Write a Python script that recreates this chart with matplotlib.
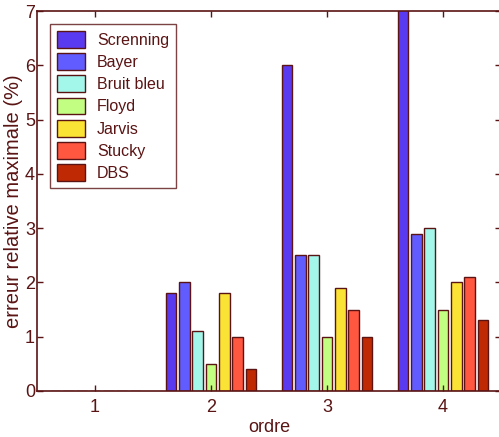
import numpy as np
import matplotlib
matplotlib.use("Agg")
import matplotlib.pyplot as plt

# erreur relative maximale (%) par ordre
ordres = [1, 2, 3, 4]
methodes = ["Screnning", "Bayer", "Bruit bleu", "Floyd", "Jarvis", "Stucky", "DBS"]
screnning = [0.0, 1.8, 6.0, 7.3]
bayer = [0.0, 2.0, 2.5, 2.9]
bruit_bleu = [0.0, 1.1, 2.5, 3.0]
floyd = [0.0, 0.5, 1.0, 1.5]
jarvis = [0.0, 1.8, 1.9, 2.0]
stucky = [0.0, 1.0, 1.5, 2.1]
dbs = [0.0, 0.4, 1.0, 1.3]
series = [screnning, bayer, bruit_bleu, floyd, jarvis, stucky, dbs]

couleurs = ["#5a3af0", "#615cff", "#a2f7ea", "#c2fe82", "#fbe335", "#ff5740", "#bf2a05"]
brun = "#5a1414"

plt.rcParams["font.family"] = ["Liberation Sans", "DejaVu Sans"]
plt.rcParams["text.color"] = brun
plt.rcParams["axes.labelcolor"] = brun
plt.rcParams["xtick.color"] = brun
plt.rcParams["ytick.color"] = brun

fig = plt.figure(figsize=(4.99, 4.37), dpi=100)
ax = fig.add_axes([0.0741, 0.1053, 0.9299, 0.8695])

x = np.array(ordres, dtype=float)
pas = 0.1147
for i, (nom, vals) in enumerate(zip(methodes, series)):
    ax.bar(x + (i - 3) * pas, vals, width=0.092, color=couleurs[i],
           edgecolor=brun, linewidth=1.0, label=nom)

ax.set_xlim(0.5, 4.5)
ax.set_ylim(0, 7)
ax.set_xticks(ordres)
ax.set_yticks(range(8))
ax.tick_params(direction="in", length=4, labelsize=13, width=1,
               top=True, right=True)
ax.tick_params(axis="x", pad=6)
ax.tick_params(axis="y", pad=1.5)
for s in ax.spines.values():
    s.set_color(brun)
    s.set_linewidth(1.2)

ax.set_xlabel("ordre", fontsize=13, labelpad=2)
ax.set_ylabel("erreur relative maximale (%)", fontsize=14.5)
ax.yaxis.set_label_coords(-0.03, 0.5)

leg = ax.legend(loc="upper left", bbox_to_anchor=(0.028, 0.966), fontsize=11.5,
                fancybox=False, edgecolor=brun, handlelength=1.75,
                handleheight=1.25, labelspacing=0.33, borderpad=0.45,
                handletextpad=0.75, borderaxespad=0)
leg.get_frame().set_linewidth(1.0)

fig.savefig("out.png", dpi=100)
